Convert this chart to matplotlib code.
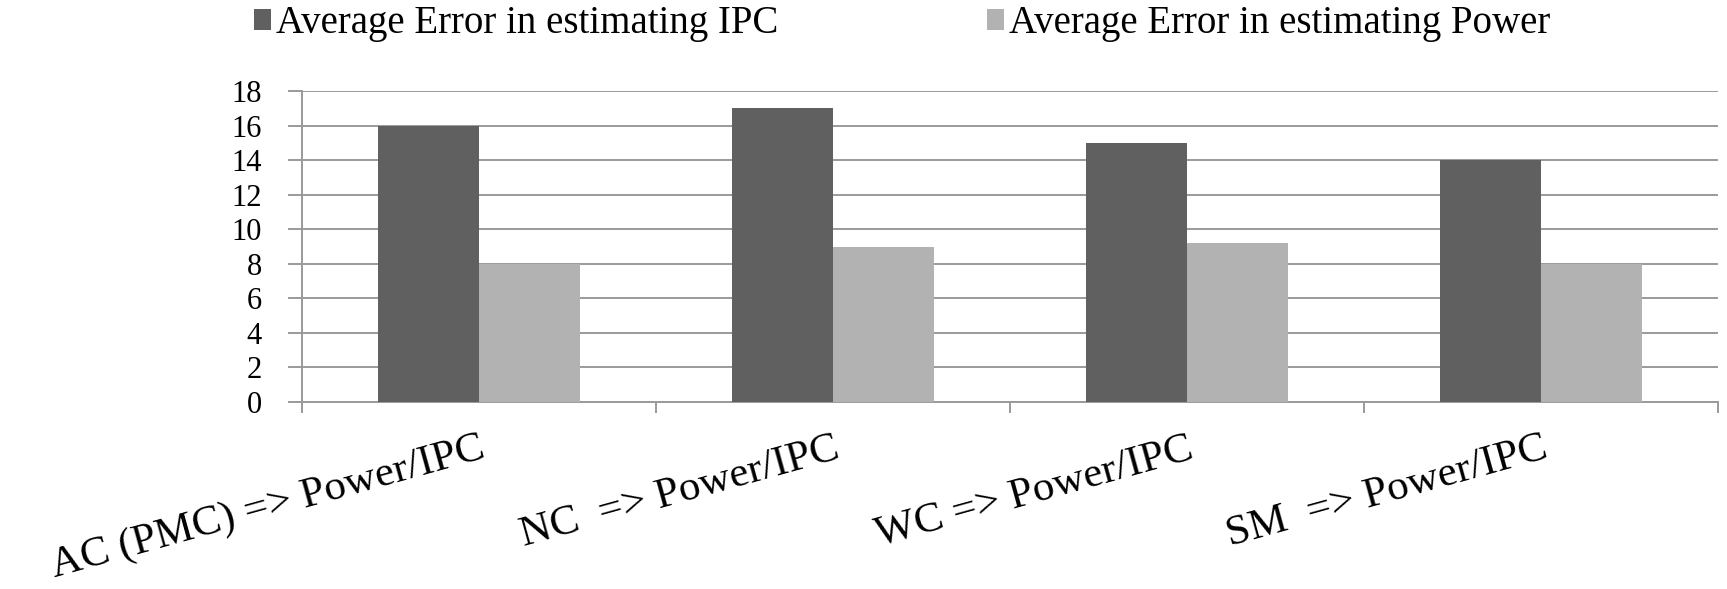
import numpy as np
import matplotlib
matplotlib.use("Agg")
import matplotlib.pyplot as plt
from matplotlib.patches import Patch
from matplotlib.transforms import ScaledTranslation

# Chart data
categories = ["AC (PMC) => Power/IPC", "NC  => Power/IPC", "WC => Power/IPC", "SM  => Power/IPC"]
ipc_error = [16, 17, 15, 14]
power_error = [8, 9, 9.2, 8]
series_names = ["Average Error in estimating IPC", "Average Error in estimating Power"]
y_ticks = [0, 2, 4, 6, 8, 10, 12, 14, 16, 18]

DARK = "#606060"
LIGHT = "#b2b2b2"
GRID = "#9a9a9a"

plt.rcParams["font.family"] = ["Liberation Serif", "DejaVu Serif"]

W, H = 1727, 589
fig = plt.figure(figsize=(W / 100, H / 100), dpi=100)
ax = fig.add_axes([302 / W, 1 - 402 / H, (1718 - 302) / W, (402 - 91) / H])

x = np.arange(len(categories))
bw = 0.284
ax.bar(x - bw / 2, ipc_error, width=bw, color=DARK, zorder=3)
ax.bar(x + bw / 2, power_error, width=bw, color=LIGHT, zorder=3)

ax.set_xlim(-0.5, len(categories) - 0.5)
ax.set_ylim(0, 18)

# horizontal gridlines
ax.set_yticks(y_ticks)
ax.yaxis.grid(True, color=GRID, linewidth=1.4, zorder=0)
ax.set_axisbelow(True)
ax.tick_params(axis="y", direction="out", length=10, width=1.4, color=GRID,
               labelsize=22, pad=19)

# category boundary ticks (major) and centred labels (minor)
ax.set_xticks(np.arange(len(categories) + 1) - 0.5)
ax.set_xticklabels([])
ax.tick_params(axis="x", which="major", direction="out", length=8, width=1.4, color=GRID)
ax.set_xticks(x, minor=True)
ax.set_xticklabels(categories, minor=True, rotation=15.5, ha="right", va="baseline",
                   rotation_mode="anchor", fontsize=31)
ax.tick_params(axis="x", which="minor", length=0, pad=40)
shift = ScaledTranslation(8 / 100, 0, fig.dpi_scale_trans)
for lbl in ax.get_xticklabels(minor=True):
    lbl.set_transform(lbl.get_transform() + shift)

for side in ["top", "right"]:
    ax.spines[side].set_visible(False)
for side in ["left", "bottom"]:
    ax.spines[side].set_color(GRID)
    ax.spines[side].set_linewidth(1.4)

handles = [Patch(facecolor=DARK, edgecolor="none"), Patch(facecolor=LIGHT, edgecolor="none")]
fig.legend(handles, series_names, loc="center", ncol=2,
           bbox_to_anchor=(902 / W, 1 - 24 / H), frameon=False, fontsize=28,
           handlelength=0.45, handleheight=0.45, handletextpad=0.11,
           columnspacing=5.37, borderpad=0, borderaxespad=0)

fig.savefig("out.png", dpi=100, facecolor="white")
